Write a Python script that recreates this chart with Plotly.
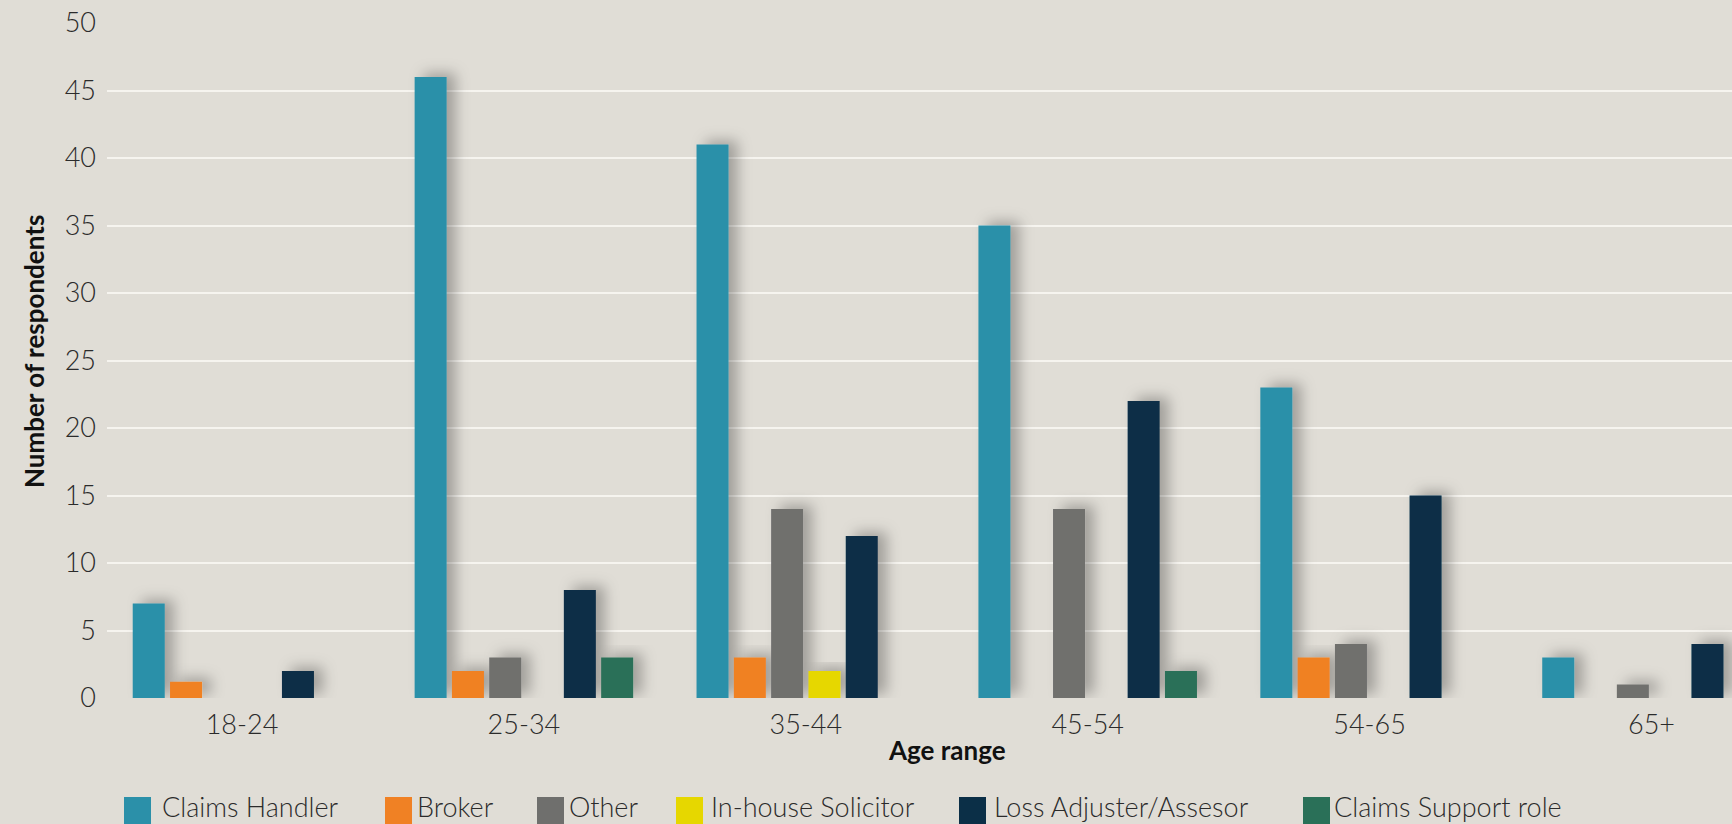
import plotly.graph_objects as go

# Age bands on the x axis
age_ranges = ["18-24", "25-34", "35-44", "45-54", "54-65", "65+"]

# Respondent counts per job role (None = no respondents in that band)
claims_handler = [7, 46, 41, 35, 23, 3]
broker = [1.2, 2, 3, None, 3, None]
other = [None, 3, 14, 14, 4, 1]
in_house_solicitor = [None, None, 2, None, None, None]
loss_adjuster = [2, 8, 12, 22, 15, 4]
claims_support = [None, 3, None, 2, None, None]

role_names = ["Claims Handler", "Broker", "Other", "In-house Solicitor",
              "Loss Adjuster/Assesor", "Claims Support role"]
role_values = [claims_handler, broker, other, in_house_solicitor,
               loss_adjuster, claims_support]
role_colors = ["#2B90A9", "#F08124", "#6F6F6D", "#E6D700", "#0B2F47", "#2A7058"]

y_ticks = [0, 5, 10, 15, 20, 25, 30, 35, 40, 45, 50]

BG = "#E0DDD6"
GRID = "#F6F4EF"
TEXT = "#2B2B2B"
LIGHT_FONT = dict(family="Lato", size=27, color=TEXT, weight=300)
BOLD_FONT = dict(family="Lato", size=26, color="#111111", weight=700)

W, H = 1732, 824
L, R, T, B = 107, 0, 23, 126
plot_w = W - L - R
plot_h = H - T - B

fig = go.Figure()
for name, vals, col in zip(role_names, role_values, role_colors):
    fig.add_trace(go.Bar(
        x=age_ranges, y=vals, name=name,
        marker=dict(color=col, line=dict(width=0)),
        showlegend=False,
    ))


def px_x(px):
    return (px - L) / plot_w


def px_y(py):
    return (H - B - py) / plot_h


# Hand-built legend row along the bottom edge
legend_square_left = [124, 385, 537, 676, 959, 1303]
legend_text_left = [160, 415, 567, 709, 992, 1332]
shapes = []
annotations = []
for name, col, sx, tx in zip(role_names, role_colors, legend_square_left, legend_text_left):
    shapes.append(dict(
        type="rect", xref="paper", yref="paper",
        x0=px_x(sx), x1=px_x(sx + 27), y0=px_y(797), y1=px_y(830),
        fillcolor=col, line=dict(width=0), layer="above",
    ))
    annotations.append(dict(
        text=name, xref="paper", yref="paper",
        x=px_x(tx), y=px_y(825), xanchor="left", yanchor="bottom",
        showarrow=False, font=LIGHT_FONT,
    ))

# Axis titles
annotations.append(dict(
    text="Number of respondents", xref="paper", yref="paper",
    x=px_x(34), y=px_y(352), xanchor="center", yanchor="middle",
    textangle=-90, showarrow=False, font=BOLD_FONT,
))
annotations.append(dict(
    text="Age range", xref="paper", yref="paper",
    x=px_x(947), y=px_y(750), xanchor="center", yanchor="middle",
    showarrow=False, font=BOLD_FONT,
))

# Category centres sit ~282 px apart, the first at x = 242 px
cat_step = 281.9
first_centre = 242
x_lo = (L - first_centre) / cat_step
x_hi = (W - R - first_centre) / cat_step

fig.update_layout(
    width=W, height=H,
    margin=dict(l=L, r=R, t=T, b=B, pad=0),
    paper_bgcolor=BG, plot_bgcolor=BG,
    barmode="group", bargap=0.206, bargroupgap=0.142,
    font=LIGHT_FONT,
    shapes=shapes, annotations=annotations,
    xaxis=dict(
        type="category", range=[x_lo, x_hi],
        showgrid=False, zeroline=False, showline=False, ticks="",
        tickfont=LIGHT_FONT, ticklabelstandoff=8,
    ),
    yaxis=dict(
        range=[0, 50], tickvals=y_ticks, ticktext=[str(v) for v in y_ticks],
        showgrid=True, gridcolor=GRID, gridwidth=2,
        zeroline=False, showline=False, ticks="",
        tickfont=LIGHT_FONT, ticklabelstandoff=10,
    ),
)

# Soft drop shadow behind every bar
shadow_js = """
var gd = document.getElementById('{plot_id}');
var svg = gd.querySelector('svg.main-svg');
var ns = 'http://www.w3.org/2000/svg';
var defs = svg.querySelector('defs') || svg.insertBefore(document.createElementNS(ns, 'defs'), svg.firstChild);
var f = document.createElementNS(ns, 'filter');
f.setAttribute('id', 'barshadow');
f.setAttribute('x', '-30%'); f.setAttribute('y', '-30%');
f.setAttribute('width', '160%'); f.setAttribute('height', '160%');
var ds = document.createElementNS(ns, 'feDropShadow');
ds.setAttribute('dx', '9'); ds.setAttribute('dy', '-4');
ds.setAttribute('stdDeviation', '7');
ds.setAttribute('flood-color', '#000000');
ds.setAttribute('flood-opacity', '0.28');
f.appendChild(ds);
defs.appendChild(f);
gd.querySelectorAll('.barlayer .trace.bars').forEach(function (g) {
    g.setAttribute('filter', 'url(#barshadow)');
});
"""

fig.write_html("out.html", post_script=shadow_js, config={"responsive": False})
